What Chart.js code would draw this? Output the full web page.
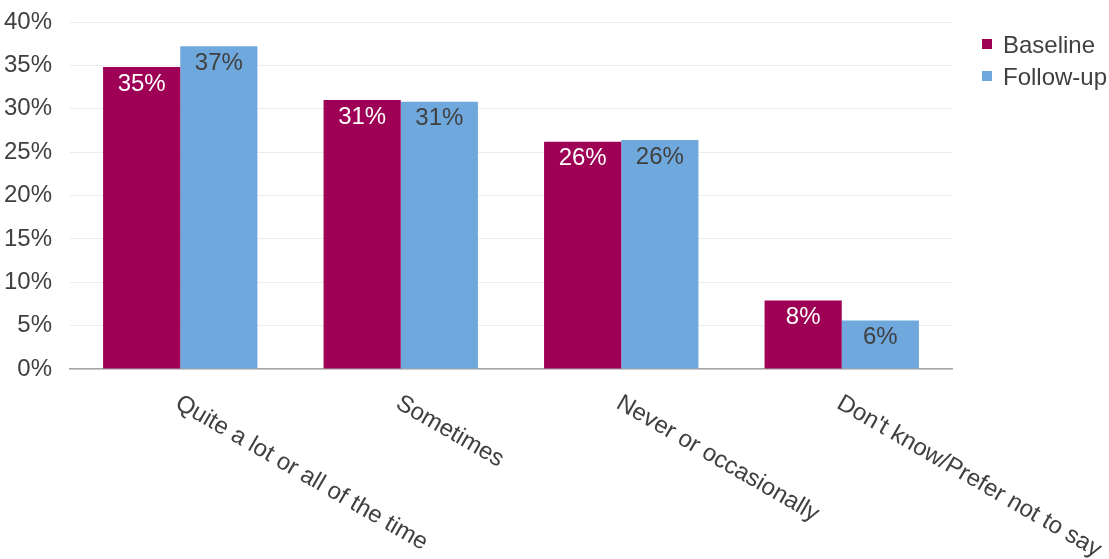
<!DOCTYPE html>
<html>
<head>
<meta charset="utf-8">
<script src="https://cdn.jsdelivr.net/npm/chart.js@4.4.1/dist/chart.umd.min.js"></script>
<style>
  html, body { margin: 0; padding: 0; background: #fff; }
  #wrap { width: 1109px; height: 559px; }
</style>
</head>
<body>
<div id="wrap"><canvas id="Chart"></canvas></div>
<script>
// categories and series
const categories = ["Quite a lot or all of the time", "Sometimes", "Never or occasionally", "Don't know/Prefer not to say"];
const baseline = [34.8, 31.0, 26.2, 7.9];
const followUp = [37.2, 30.8, 26.4, 5.6];
const seriesNames = ["Baseline", "Follow-up"];
const yTicks = [0, 5, 10, 15, 20, 25, 30, 35, 40];

const FONT = "Liberation Sans, Arial, sans-serif";
const TEXT = "#404040";
const colours = ["#9e0055", "#6fa8dc"];
const labelColours = ["#ffffff", "#404040"];

// values inside the top of each bar
const barLabels = {
  id: "barLabels",
  afterDatasetsDraw(chart) {
    const ctx = chart.ctx;
    ctx.save();
    ctx.font = "24px " + FONT;
    ctx.textAlign = "center";
    ctx.textBaseline = "middle";
    chart.data.datasets.forEach((ds, di) => {
      chart.getDatasetMeta(di).data.forEach((bar, i) => {
        ctx.fillStyle = labelColours[di];
        ctx.fillText(Math.round(ds.data[i]) + "%", bar.x, bar.y + 17);
      });
    });
    ctx.restore();
  }
};

// slanted category labels going down to the right
const catLabels = {
  id: "catLabels",
  afterDraw(chart) {
    const ctx = chart.ctx;
    const xs = chart.scales.x;
    ctx.save();
    ctx.font = "24px " + FONT;
    ctx.fillStyle = TEXT;
    ctx.textAlign = "left";
    ctx.textBaseline = "top";
    categories.forEach((c, i) => {
      ctx.save();
      ctx.translate(xs.getPixelForValue(i) + 3, chart.chartArea.bottom + 22);
      ctx.rotate(30 * Math.PI / 180);
      ctx.fillText(c, 0, 0);
      ctx.restore();
    });
    ctx.restore();
  }
};

// legend on the right
const sideLegend = {
  id: "sideLegend",
  afterDraw(chart) {
    const ctx = chart.ctx;
    const x0 = chart.chartArea.right + 30;
    ctx.save();
    ctx.font = "24px " + FONT;
    ctx.textBaseline = "middle";
    seriesNames.forEach((n, i) => {
      const y = 44 + i * 32;
      ctx.fillStyle = colours[i];
      ctx.fillRect(x0, y - 5, 10, 10);
      ctx.fillStyle = TEXT;
      ctx.fillText(n, x0 + 21, y + 2);
    });
    ctx.restore();
  }
};

new Chart("Chart", {
  type: "bar",
  data: {
    labels: categories,
    datasets: [
      { label: seriesNames[0], data: baseline, backgroundColor: colours[0] },
      { label: seriesNames[1], data: followUp, backgroundColor: colours[1] }
    ]
  },
  options: {
    responsive: true,
    maintainAspectRatio: false,
    animation: false,
    layout: { padding: { top: 22, right: 157, bottom: 190, left: 0 } },
    datasets: { bar: { categoryPercentage: 0.7, barPercentage: 1.0 } },
    plugins: {
      legend: { display: false },
      tooltip: { enabled: false }
    },
    scales: {
      x: {
        ticks: { display: false },
        grid: { display: false },
        border: { display: true, color: "#a6a6a6", width: 1.5 },
        afterFit(scale) { scale.height = 0; }
      },
      y: {
        min: 0,
        max: 40,
        afterBuildTicks(scale) { scale.ticks = yTicks.map(v => ({ value: v })); },
        ticks: {
          padding: 18,
          color: TEXT,
          font: { family: FONT, size: 24 },
          callback: v => v + "%"
        },
        grid: { color: "#ececec", drawTicks: false },
        border: { display: false },
        afterFit(scale) {
          scale.width = 70;
          scale.paddingTop = 0;
          scale.paddingBottom = 0;
        }
      }
    }
  },
  plugins: [barLabels, catLabels, sideLegend]
});
</script>
</body>
</html>
